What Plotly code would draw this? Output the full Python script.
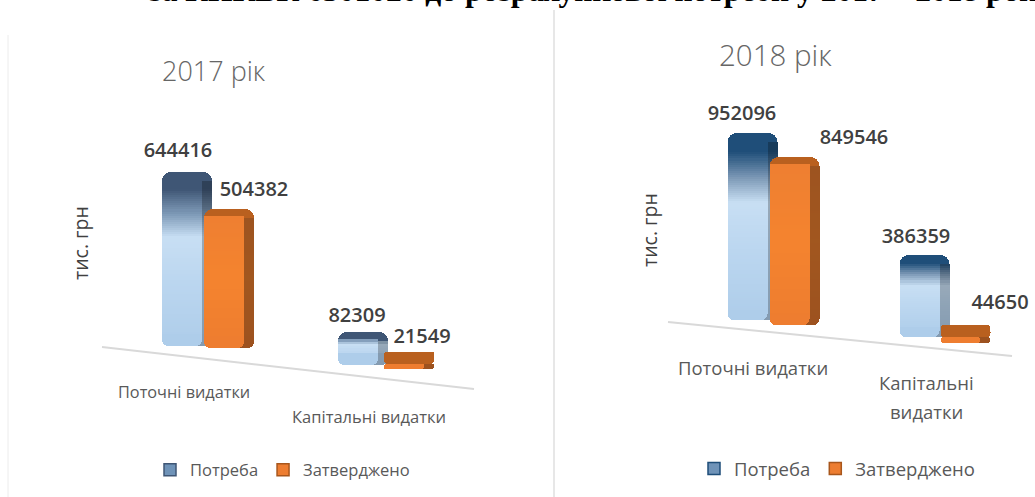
import plotly.graph_objects as go

# ---------- data ----------
CATEGORIES = ["Поточні видатки", "Капітальні видатки"]
SERIES = ["Потреба", "Затверджено"]
NEED_2017 = [644416, 82309]
APPROVED_2017 = [504382, 21549]
NEED_2018 = [952096, 386359]
APPROVED_2018 = [849546, 44650]
PANEL_TITLES = ["2017 рік", "2018 рік"]
AXIS_TITLE = "тис. грн"
HEADER = "за КПКВК 6301020 до розрахункової потреби у 2017 – 2018 роках"

# ---------- layout constants (pixels of the 1035x497 page) ----------
W, H = 1035, 497
BAR_W = 50
SIDE_W = 10
PANELS = [
    dict(xa="x", ya="y", scale=3987, plinth=12, radius=9, dark="#3f5675",
         need=NEED_2017, appr=APPROVED_2017,
         need_left=[162, 338], appr_left=[204, 384],
         need_floor=[346, 365], appr_floor=[348, 369],
         need_lab=[(178, 152), (357, 317)], appr_lab=[(254, 191), (422, 338)],
         font=20),
    dict(xa="x2", ya="y2", scale=5388, plinth=10, radius=9, dark="#1f4e79",
         need=NEED_2018, appr=APPROVED_2018,
         need_left=[727, 899], appr_left=[769, 940],
         need_floor=[320, 337], appr_floor=[325, 343],
         need_lab=[(742, 115), (916, 238)], appr_lab=[(854, 139), (1000, 304)],
         font=20),
]


def hex2rgb(c):
    return tuple(int(c[i:i + 2], 16) for i in (1, 3, 5))


def lerp(stops, f):
    for (f0, c0), (f1, c1) in zip(stops, stops[1:]):
        if f <= f1:
            t = 0 if f1 == f0 else (f - f0) / (f1 - f0)
            a, b = hex2rgb(c0), hex2rgb(c1)
            return tuple(a[i] + (b[i] - a[i]) * t for i in range(3))
    return hex2rgb(stops[-1][1])


def css(rgb, k=1.0):
    return "rgb(%d,%d,%d)" % tuple(min(255, v * k) for v in rgb)


fig = go.Figure()


def add_series(p, values, lefts, floors, stops, side_k, top_color, name):
    k = p["scale"]
    xa, ya = p["xa"], p["ya"]
    to_y = lambda px: (H - px) * k
    centers = [l + BAR_W / 2 for l in lefts]
    common = dict(xaxis=xa, yaxis=ya, hoverinfo="skip", showlegend=False)
    bases = [to_y(f - p["plinth"]) for f in floors]
    is_short = [v / k + p["plinth"] < 30 and name == SERIES[1] for v in values]

    # whole bar: its length is the value
    fig.add_trace(go.Bar(x=centers, y=values, base=bases, width=BAR_W, name=name,
                         marker=dict(color=top_color, cornerradius=p["radius"], line_width=0),
                         **common))

    # backing down to the floor, so that short bars show one rounded top surface
    fig.add_trace(go.Bar(x=centers, y=[v + (p["plinth"] - 3) * k for v in values],
                         base=[to_y(f - 3) for f in floors], width=BAR_W,
                         marker=dict(color=top_color, cornerradius=p["radius"], line_width=0), **common))

    # foot of the bar below the value part; runs a little up under the slices
    foot_tops = []
    foot_lens = []
    for v, f, short in zip(values, floors, is_short):
        total = v / k + p["plinth"]
        foot_px = total - 12 if short else p["plinth"] + 6
        foot_tops.append(to_y(f - foot_px))
        foot_lens.append(-foot_px * k)
    fig.add_trace(go.Bar(x=centers, y=foot_lens, base=foot_tops, width=BAR_W,
                         marker=dict(color=css(lerp(stops, 1.0), side_k), cornerradius=6, line_width=0),
                         **common))
    fig.add_trace(go.Bar(x=[c - SIDE_W / 2 for c in centers], y=foot_lens, base=foot_tops,
                         width=BAR_W - SIDE_W,
                         marker=dict(color=css(lerp(stops, 1.0)), cornerradius=6, line_width=0),
                         **common))

    # shaded slices over the value part
    for layer in ("side", "face"):
        xs, ys, bs, cols = [], [], [], []
        for c, v, b, short in zip(centers, values, bases, is_short):
            vpx = v / k
            total = vpx + p["plinth"]
            if short:
                continue
            strip = p["radius"] if layer == "side" else 7
            usable = max(vpx - strip, 0)
            n = max(int(usable / 2), 1)
            for i in range(n):
                lo = i * usable / n
                hi = (i + 1) * usable / n
                frac_top = (vpx - (lo + hi) / 2) / total
                rgb = lerp(stops, frac_top)
                xs.append(c if layer == "side" else c - SIDE_W / 2)
                ys.append((hi - lo + (1.5 if i < n - 1 else 0)) * k)
                bs.append(b + lo * k)
                cols.append(css(rgb, side_k if layer == "side" else 1.0))
        fig.add_trace(go.Bar(x=xs, y=ys, base=bs,
                             width=BAR_W if layer == "side" else BAR_W - SIDE_W,
                             marker=dict(color=cols, line_width=0), **common))


for idx, p in enumerate(PANELS):
    blue = [(0, p["dark"]), (0.10, p["dark"]), (0.24, "#7f9bb8"), (0.37, "#c8dff4"), (0.62, "#bcd7f0"), (1, "#aecdea")]
    orange = [(0, "#ee7f32"), (0.5, "#f5842f"), (1, "#ee7d30")]
    add_series(p, p["need"], p["need_left"], p["need_floor"], blue, 0.76, p["dark"], SERIES[0])
    add_series(p, p["appr"], p["appr_left"], p["appr_floor"], orange, 0.66, "#b9601f", SERIES[1])

    # data labels
    labs = p["need_lab"] + p["appr_lab"]
    fig.add_trace(go.Scatter(
        x=[a for a, _ in labs], y=[(H - b) * p["scale"] for _, b in labs],
        text=[str(v) for v in p["need"] + p["appr"]], mode="text",
        textfont=dict(family="Open Sans", size=p["font"], color="#404040", weight=600),
        xaxis=p["xa"], yaxis=p["ya"], hoverinfo="skip", showlegend=False))

    # legend entries
    lg = "legend" if idx == 0 else "legend2"
    fig.add_trace(go.Bar(x=[None], y=[None], name=SERIES[0], legend=lg, xaxis=p["xa"], yaxis=p["ya"],
                         marker=dict(color="#6f93b8", line=dict(color=p["dark"], width=1.5))))
    fig.add_trace(go.Bar(x=[None], y=[None], name=SERIES[1], legend=lg, xaxis=p["xa"], yaxis=p["ya"],
                         marker=dict(color="#ed7d31", line=dict(color="#a8561c", width=1.5))))


def line_px(x0, y0, x1, y1, color, width):
    return dict(type="line", xref="paper", yref="paper", layer="below",
                x0=x0 / W, x1=x1 / W, y0=1 - y0 / H, y1=1 - y1 / H,
                line=dict(color=color, width=width))


def text_px(x, y, text, size, color="#595959", family="Open Sans", angle=0, weight=400, xanchor="center"):
    return dict(xref="paper", yref="paper", x=x / W, y=1 - y / H, text=text, showarrow=False,
                xanchor=xanchor, yanchor="middle", textangle=angle,
                font=dict(family=family, size=size, color=color, weight=weight))


shapes = [
    line_px(8, 35, 8, 497, "#ececec", 1),
    line_px(554, 10, 554, 497, "#cfcfcf", 1),
    line_px(102, 347, 474, 389, "#d9d9d9", 2),
    line_px(668, 322, 1012, 356, "#d9d9d9", 2),
]
annotations = [
    text_px(147, -10, HEADER, 31.5, color="#000000", family="Liberation Serif", weight=700, xanchor="left"),
    text_px(214, 70, PANEL_TITLES[0], 27, color="#666666", weight=300),
    text_px(775, 55, PANEL_TITLES[1], 29.5, color="#666666", weight=300),
    text_px(80, 243, AXIS_TITLE, 19.5, color="#404040", angle=-90),
    text_px(650, 230, AXIS_TITLE, 19.5, color="#404040", angle=-90),
    text_px(184, 392, CATEGORIES[0], 16.3),
    text_px(369, 416, CATEGORIES[1], 16.5),
    text_px(753, 367, CATEGORIES[0], 18.5),
    text_px(926, 382, CATEGORIES[1].split()[0], 18.5),
    text_px(926, 411, CATEGORIES[1].split()[1], 18.5),
]

fig.update_layout(
    width=W, height=H, autosize=False,
    margin=dict(l=0, r=0, t=0, b=0),
    paper_bgcolor="white", plot_bgcolor="white",
    barmode="overlay", bargap=0,
    shapes=shapes, annotations=annotations,
    xaxis=dict(domain=[0, 0.5], range=[0, W / 2], visible=False),
    xaxis2=dict(domain=[0.5, 1], range=[W / 2, W], visible=False),
    yaxis=dict(domain=[0, 1], range=[0, H * PANELS[0]["scale"]], visible=False),
    yaxis2=dict(domain=[0, 1], range=[0, H * PANELS[1]["scale"]], visible=False, anchor="x2"),
    legend=dict(orientation="h", x=150 / W, xanchor="left", y=1 - 470 / H, yanchor="middle",
                font=dict(family="Open Sans", size=16.5, color="#595959"),
                bgcolor="rgba(0,0,0,0)", traceorder="normal"),
    legend2=dict(orientation="h", x=694 / W, xanchor="left", y=1 - 469 / H, yanchor="middle",
                 font=dict(family="Open Sans", size=18.5, color="#595959"),
                 bgcolor="rgba(0,0,0,0)", traceorder="normal"),
)

fig.write_html("out.html", config={"displayModeBar": False},
               post_script="document.body.style.margin='0';")
